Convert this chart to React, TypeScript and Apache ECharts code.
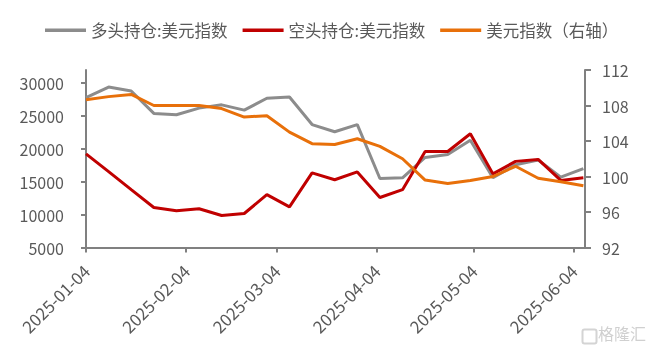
import React, { useEffect, useRef } from "react";
import * as echarts from "echarts";

const dates = [
  "2025-01-04", "2025-01-11", "2025-01-18", "2025-01-25",
  "2025-02-01", "2025-02-08", "2025-02-15", "2025-02-22",
  "2025-03-01", "2025-03-08", "2025-03-15", "2025-03-22", "2025-03-29",
  "2025-04-05", "2025-04-12", "2025-04-19", "2025-04-26",
  "2025-05-03", "2025-05-10", "2025-05-17", "2025-05-24", "2025-05-31",
  "2025-06-07",
];
const longPos = [27800, 29400, 28800, 25400, 25200, 26200, 26700, 25900, 27700, 27900, 23700, 22600, 23700, 15500, 15600, 18700, 19150, 21300, 15600, 17600, 18300, 15700, 17000];
const shortPos = [19250, 16550, 13800, 11080, 10600, 10900, 9870, 10170, 13050, 11170, 16350, 15300, 16500, 12600, 13800, 19600, 19600, 22300, 16200, 18100, 18400, 15200, 15600];
const dxy = [108.65, 109.0, 109.25, 108.0, 108.0, 108.0, 107.65, 106.7, 106.85, 105.0, 103.7, 103.6, 104.25, 103.4, 102.0, 99.6, 99.2, 99.55, 100.0, 101.15, 99.8, 99.4, 98.95];
const xTickDates = ["2025-01-04", "2025-02-04", "2025-03-04", "2025-04-04", "2025-05-04", "2025-06-04"];
const leftTicks = [5000, 10000, 15000, 20000, 25000, 30000];
const rightTicks = [92, 96, 100, 104, 108, 112];

const names = ["多头持仓:美元指数", "空头持仓:美元指数", "美元指数（右轴）"];

const ts = (s: string) => {
  const [y, m, d] = s.split("-").map(Number);
  return Date.UTC(y, m - 1, d);
};
const fmt = (v: number) => new Date(v).toISOString().slice(0, 10);

export default function App() {
  const ref = useRef<HTMLDivElement>(null);
  useEffect(() => {
    if (!ref.current) return;
    const chart = echarts.init(ref.current, null, { renderer: "svg" });
    const font = "'Noto Sans CJK SC', 'Noto Sans', sans-serif";
    const axisColor = "#808080";
    const labelColor = "#595959";
    const xs = dates.map(ts);
    chart.setOption({
      animation: false,
      textStyle: { fontFamily: font },
      legend: {
        left: 40,
        top: 17,
        icon: "rect",
        itemWidth: 41,
        itemHeight: 3.5,
        itemGap: 15,
        textStyle: { fontSize: 16.5, color: labelColor, fontFamily: font },
        data: names,
      },
      grid: { left: 86, right: 65, top: 70, bottom: 106.5 },
      xAxis: {
        type: "value",
        min: ts("2025-01-04"),
        max: ts("2025-06-07") + 12 * 3600 * 1000,
        splitLine: { show: false },
        axisLine: { onZero: false, lineStyle: { color: axisColor, width: 2 } },
        axisTick: {
          show: true,
          length: 5,
          customValues: xTickDates.map(ts),
          lineStyle: { color: axisColor, width: 2 },
        },
        axisLabel: {
          customValues: xTickDates.map(ts),
          rotate: 45,
          margin: 20,
          fontSize: 17,
          color: labelColor,
          fontFamily: font,
          formatter: (v: number) => fmt(v),
        },
      },
      yAxis: [
        {
          type: "value",
          min: 5000,
          max: 32000,
          interval: 5000,
          splitLine: { show: false },
          axisLine: { show: true, lineStyle: { color: axisColor, width: 2 } },
          axisTick: {
            show: true,
            length: 5,
            customValues: leftTicks,
            lineStyle: { color: axisColor, width: 2 },
          },
          axisLabel: {
            customValues: leftTicks,
            margin: 22,
            fontSize: 16,
            color: labelColor,
            fontFamily: font,
            formatter: (v: number) => String(v),
          },
        },
        {
          type: "value",
          min: 92,
          max: 112,
          interval: 4,
          position: "right",
          splitLine: { show: false },
          axisLine: { show: true, lineStyle: { color: axisColor, width: 2 } },
          axisTick: {
            show: true,
            length: 6,
            customValues: rightTicks,
            lineStyle: { color: axisColor, width: 2 },
          },
          axisLabel: {
            customValues: rightTicks,
            margin: 17,
            fontSize: 16,
            color: labelColor,
            fontFamily: font,
            formatter: (v: number) => String(v),
          },
        },
      ],
      series: [
        {
          name: names[0],
          type: "line",
          yAxisIndex: 0,
          showSymbol: false,
          color: "#8c8c8c",
          lineStyle: { width: 3, color: "#8c8c8c" },
          data: xs.map((x, i) => [x, longPos[i]]),
        },
        {
          name: names[1],
          type: "line",
          yAxisIndex: 0,
          showSymbol: false,
          color: "#c00000",
          lineStyle: { width: 3, color: "#c00000" },
          data: xs.map((x, i) => [x, shortPos[i]]),
        },
        {
          name: names[2],
          type: "line",
          yAxisIndex: 1,
          showSymbol: false,
          color: "#e8700a",
          lineStyle: { width: 3, color: "#e8700a" },
          data: xs.map((x, i) => [x, dxy[i]]),
        },
      ],
      graphic: [
        {
          type: "rect",
          left: 580,
          top: 327,
          shape: { width: 14, height: 14, r: 2 },
          style: { fill: "none", stroke: "#d4d4d4", lineWidth: 2 },
        },
        {
          type: "text",
          left: 598,
          top: 325,
          style: { text: "格隆汇", fill: "#d0d0d0", fontSize: 16, fontFamily: font },
        },
      ],
    });
    return () => chart.dispose();
  }, []);
  return (
    <div
      ref={ref}
      style={{ position: "fixed", left: 0, top: 0, width: 650, height: 354 }}
    />
  );
}
